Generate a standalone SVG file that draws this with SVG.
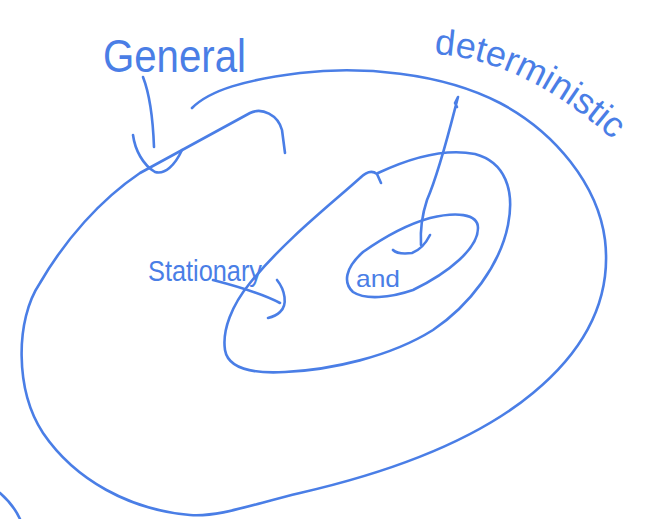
<svg xmlns="http://www.w3.org/2000/svg" width="646" height="519" viewBox="0 0 646 519">
<defs>
<style>
.s{fill:none;stroke:#4a7ee6;stroke-width:2.6;stroke-linecap:round;stroke-linejoin:round}
.t{fill:#4a7ee6;font-family:"Liberation Sans","DejaVu Sans",sans-serif}
</style>
<path id="detPath" d="M434,54 Q530,60 626,152"/>
</defs>
<rect width="646" height="519" fill="#ffffff"/>
<g id="general-region">
<path class="s" d="M192,108 C210,90 245,80 300,73 C360,66 440,72 500,103 C555,132 598,185 605,240 C612,300 585,350 533,393 C480,437 400,470 300,493 C250,505 220,517 190,515 C130,510 75,480 43,433 C15,390 15,320 40,283 C65,240 100,200 140,173 L250,113 C262,107 278,115 282,130 L285,153"/>
</g>
<g id="stationary-region">
<path class="s" d="M381,183 L377,174 C372,170 366,172 360,178 C330,205 285,240 250,283 C232,305 222,330 225,350 C228,368 250,374 285,372 C330,370 390,357 433,330 C470,305 500,265 508,225 C515,190 505,162 475,154 C445,148 410,158 378,173"/>
</g>
<g id="deterministic-region">
<path class="s" d="M363,252 C380,240 405,225 430,218 C455,212 478,213 478,228 C478,248 450,272 413,290 C390,298 365,300 353,292 C343,283 345,268 363,252"/>
</g>
<g id="edge-fragment">
<path class="s" d="M0,493 C8,500 15,508 20,519"/>
</g>
<g id="labels">
<text class="t" x="103" y="72" font-size="46" textLength="143" lengthAdjust="spacingAndGlyphs">General</text>
<text class="t" font-size="36"><textPath href="#detPath">deterministic</textPath></text>
<text class="t" x="148" y="281" font-size="30" textLength="114" lengthAdjust="spacingAndGlyphs">Stationary</text>
<text class="t" x="356" y="287" font-size="24" textLength="44" lengthAdjust="spacingAndGlyphs">and</text>
</g>
<g id="connectors">
<path class="s" d="M143,77 C150,95 153,120 154,147"/>
<path class="s" d="M133,135 C135,150 143,165 155,172 C165,175 175,165 182,150"/>
<path class="s" d="M457,107 L455,103 L458,97 C452,120 440,170 427,200 C422,215 420,228 421,245"/>
<path class="s" d="M393,250 C397,254 404,254 412,253 C420,250 426,243 430,235"/>
<path class="s" d="M213,280 C240,287 265,295 280,303"/>
<path class="s" d="M277,280 C285,290 288,305 280,312 C277,315 272,317 268,318"/>
</g>
</svg>
